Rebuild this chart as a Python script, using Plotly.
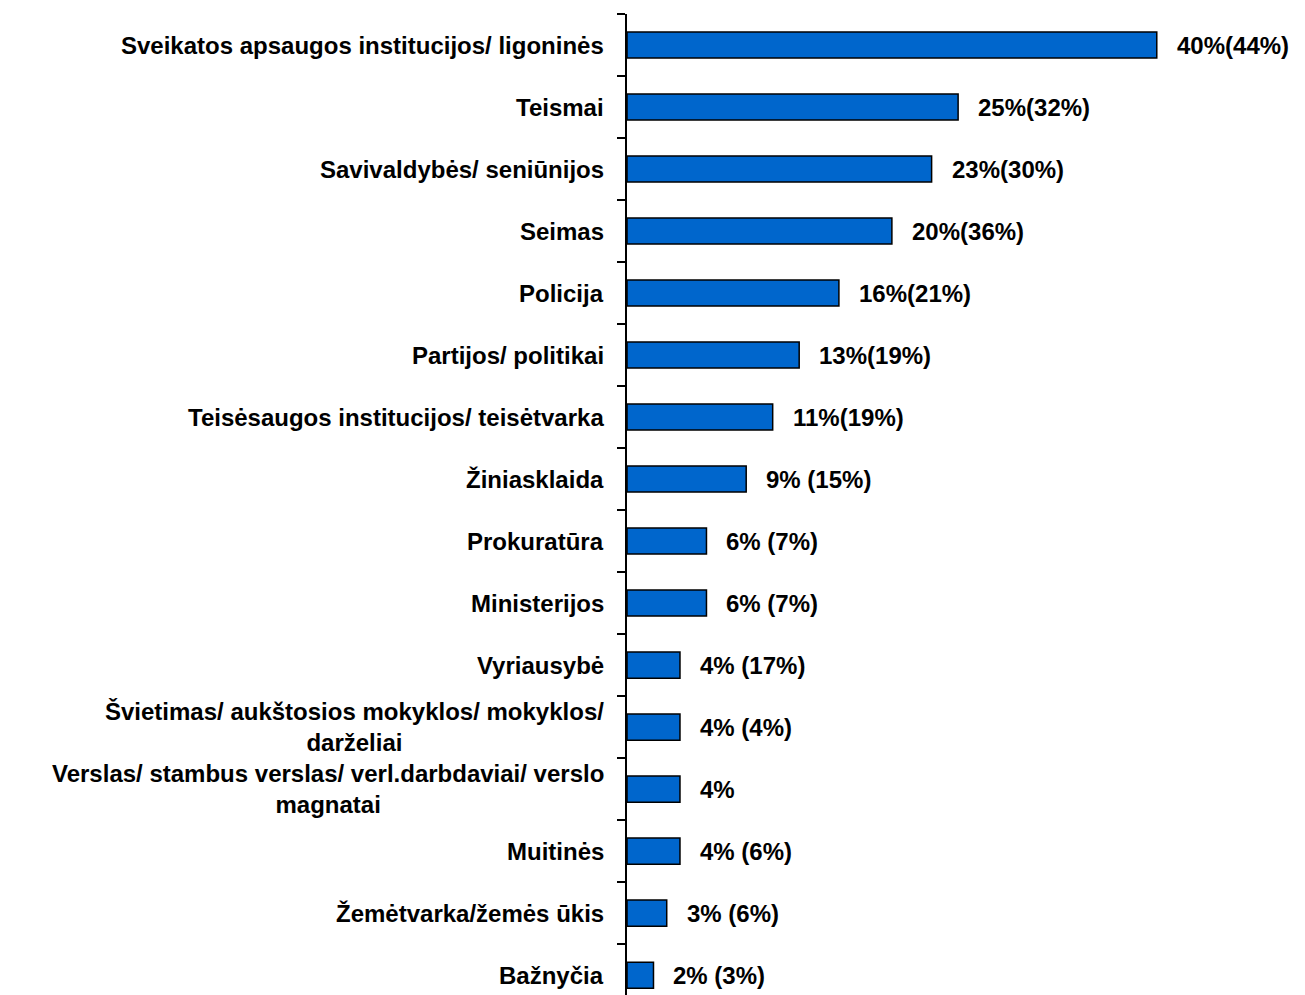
import plotly.graph_objects as go

categories = [
    "Sveikatos apsaugos institucijos/ ligoninės",
    "Teismai",
    "Savivaldybės/ seniūnijos",
    "Seimas",
    "Policija",
    "Partijos/ politikai",
    "Teisėsaugos institucijos/ teisėtvarka",
    "Žiniasklaida",
    "Prokuratūra",
    "Ministerijos",
    "Vyriausybė",
    "Švietimas/ aukštosios mokyklos/ mokyklos/<br>darželiai",
    "Verslas/ stambus verslas/ verl.darbdaviai/ verslo<br>magnatai",
    "Muitinės",
    "Žemėtvarka/žemės ūkis",
    "Bažnyčia",
]
values = [40, 25, 23, 20, 16, 13, 11, 9, 6, 6, 4, 4, 4, 4, 3, 2]
value_labels = [
    "40%(44%)", "25%(32%)", "23%(30%)", "20%(36%)", "16%(21%)", "13%(19%)",
    "11%(19%)", "9% (15%)", "6% (7%)", "6% (7%)", "4% (17%)", "4% (4%)",
    "4%", "4% (6%)", "3% (6%)", "2% (3%)",
]

FONT = "Liberation Sans, Arial, sans-serif"

fig = go.Figure()
fig.add_trace(go.Bar(
    x=values, y=categories, orientation="h",
    marker=dict(color="#0066CC", line=dict(color="black", width=1.5)),
    hoverinfo="x+y", showlegend=False,
))

# category labels (centred multi-line, right-aligned to the axis)
for cat in categories:
    fig.add_annotation(
        x=0, xref="paper", y=cat, yref="y", text=f"<b>{cat}</b>",
        xanchor="right", yanchor="middle", align="center", xshift=-21,
        showarrow=False, font=dict(family=FONT, size=24, color="black"),
    )

# value labels
for cat, v, lab in zip(categories, values, value_labels):
    fig.add_annotation(
        x=v, y=cat, text=f"<b>{lab}</b>", xanchor="left", yanchor="middle",
        xshift=18, showarrow=False, font=dict(family=FONT, size=24, color="black"),
    )

fig.update_layout(
    width=1297, height=987,
    margin=dict(l=619, r=82, t=6, b=0),
    plot_bgcolor="white", paper_bgcolor="white",
    bargap=0.58,
    xaxis=dict(range=[0, 45], visible=False),
    yaxis=dict(
        categoryorder="array", categoryarray=categories,
        range=[15.32, -0.5], showticklabels=False,
        showline=True, linecolor="black", linewidth=2,
        ticks="outside", tickson="boundaries", ticklen=8, tickcolor="black", tickwidth=1.5,
        showgrid=False, zeroline=False,
    ),
)

fig.write_html("out.html")
